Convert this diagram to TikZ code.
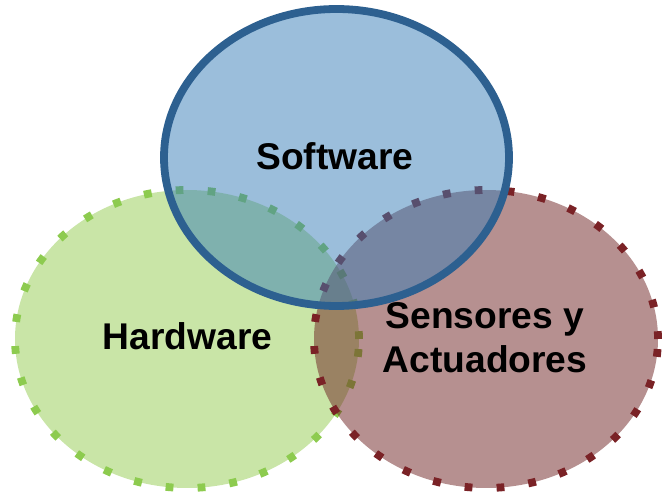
\documentclass[tikz,border=0pt]{standalone}
\usepackage{fontspec}
\setmainfont{Liberation Sans}
\definecolor{hwfill}{RGB}{147,203,79}
\definecolor{hwline}{RGB}{141,203,79}
\definecolor{sefill}{RGB}{109,33,33}
\definecolor{seline}{RGB}{122,34,38}
\definecolor{swfill}{RGB}{55,125,183}
\definecolor{swline}{RGB}{45,96,144}
\begin{document}
\begin{tikzpicture}[x=1pt,y=-1pt,
  blob/.style={fill opacity=0.5, line width=7.8pt},
  dotrim/.style={dash pattern=on 7.8pt off 24.2pt},
  lab/.style={font=\fontsize{37.2}{44}\selectfont\bfseries, inner sep=0pt, align=center, text=black}]
\useasboundingbox (0,0) rectangle (662,494);
\path[blob, dotrim, fill=hwfill, draw=hwline] (187,339) ellipse [x radius=172pt, y radius=149pt];
\path[blob, dotrim, fill=sefill, draw=seline] (486,339) ellipse [x radius=172pt, y radius=149pt];
\path[blob, fill=swfill, draw=swline] (336.5,157.5) ellipse [x radius=172.5pt, y radius=148.5pt];
\node[lab, anchor=base] (sw) at (335,170) {Software};
\node[lab, anchor=base] (hw) at (187.5,350) {Hardware};
\node[lab, anchor=center] (se) at (485,338) {Sensores y\\Actuadores};
\end{tikzpicture}
\end{document}
